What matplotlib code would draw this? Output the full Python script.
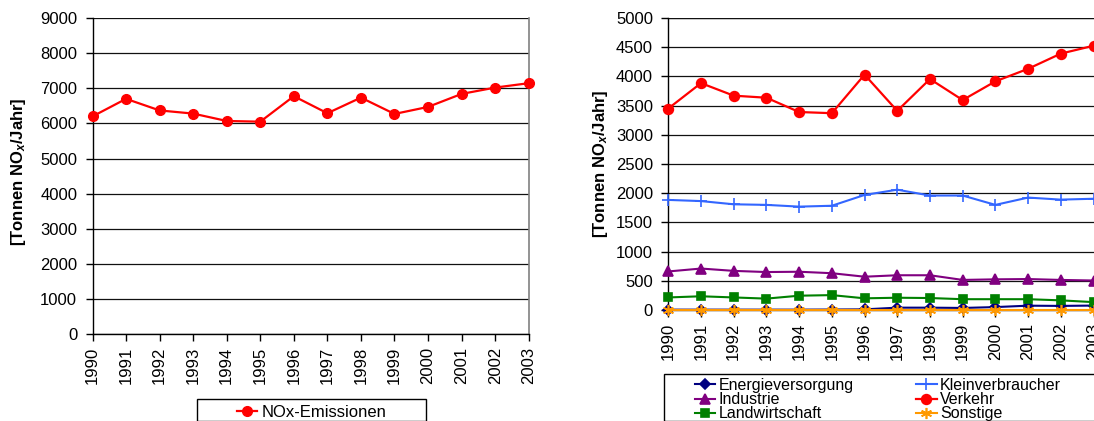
import matplotlib
matplotlib.use("Agg")
import matplotlib.pyplot as plt
from matplotlib.patches import Rectangle

plt.rcParams["font.family"] = ["Liberation Sans", "DejaVu Sans"]
plt.rcParams["mathtext.fontset"] = "custom"
plt.rcParams["mathtext.rm"] = "Liberation Sans:bold"
plt.rcParams["mathtext.it"] = "Liberation Sans:bold:italic"

years = [str(y) for y in range(1990, 2004)]

# total NOx emissions [t/a]
nox_total = [6200, 6700, 6370, 6280, 6070, 6050, 6775, 6290, 6735, 6270, 6470, 6840, 7020, 7145]

# emissions by source group [t/a]
energie = [6, 6, 6, 6, 6, 8, 11, 40, 40, 35, 50, 74, 70, 76]
klein = [1885, 1865, 1810, 1800, 1770, 1785, 1970, 2060, 1960, 1960, 1800, 1925, 1890, 1905]
industrie = [660, 710, 670, 650, 655, 630, 570, 595, 595, 515, 525, 530, 515, 505]
verkehr = [3450, 3885, 3670, 3635, 3390, 3370, 4030, 3410, 3955, 3595, 3915, 4130, 4390, 4525]
landw = [215, 235, 215, 195, 245, 255, 200, 210, 205, 185, 185, 185, 165, 135]
sonstige = [3, 3, 3, 3, 3, 3, 3, 3, 3, 3, 3, 3, 3, 3]

W, H = 1094, 421
fig = plt.figure(figsize=(W / 100, H / 100), dpi=100)
fig.patch.set_facecolor("white")


def px_axes(x0, y0, x1, y1):
    return fig.add_axes([x0 / W, 1 - y1 / H, (x1 - x0) / W, (y1 - y0) / H])


def style_axes(ax, ymax, step):
    ax.set_xlim(0, len(years) - 1)
    ax.set_ylim(0, ymax)
    ax.set_yticks(range(0, ymax + 1, step))
    ax.set_xticks(range(len(years)))
    ax.set_xticklabels(years, rotation=90)
    ax.tick_params(axis="both", labelsize=12, length=5, width=1, color="black",
                   direction="out")
    ax.tick_params(axis="y", pad=6)
    ax.tick_params(axis="x", pad=4)
    ax.grid(axis="y", color="#111111", linewidth=0.9)
    ax.set_axisbelow(True)
    for s in ["left", "bottom"]:
        ax.spines[s].set_color("black")
        ax.spines[s].set_linewidth(1.0)
    ax.spines["top"].set_visible(False)


ylabel = r"[Tonnen NO$_x$/Jahr]"

# left: total emissions
ax1 = px_axes(92.5, 18, 528.7, 334.3)
style_axes(ax1, 9000, 1000)
ax1.spines["right"].set_color("#808080")
ax1.spines["right"].set_linewidth(1.2)
x = range(len(years))
ax1.plot(x, nox_total, color="#FF0000", linewidth=1.6, marker="o",
         markersize=7, clip_on=False, zorder=3, label="NOx-Emissionen")
fig.text(19 / W, 1 - 172 / H, ylabel, rotation=90, fontsize=12,
         fontweight="bold", ha="center", va="center")

fig.patches.append(Rectangle((196.5 / W, 0), (426 - 196.5) / W, 1 - 398.5 / H,
                             transform=fig.transFigure, facecolor="none",
                             edgecolor="black", linewidth=1.0))
fig.legend(handles=ax1.get_lines(), loc="center left",
           bbox_to_anchor=(237 / W, 1 - 412.5 / H), frameon=False,
           fontsize=12, handlelength=1.2, handletextpad=0.3,
           borderpad=0, borderaxespad=0)

# right: emissions by source group
ax2 = px_axes(668.3, 18, 1093.5, 310)
style_axes(ax2, 5000, 500)
ax2.spines["right"].set_visible(False)
ax2.axhline(5000, color="#111111", linewidth=0.9, zorder=0)

series = [
    ("Energieversorgung", energie, "#000080", "D", 5, 1.5),
    ("Kleinverbraucher", klein, "#3366FF", "+", 8, 1.5),
    ("Industrie", industrie, "#800080", "^", 6.5, 1.5),
    ("Verkehr", verkehr, "#FF0000", "o", 7, 1.6),
    ("Landwirtschaft", landw, "#008000", "s", 6, 1.5),
    ("Sonstige", sonstige, "#FF9900", (6, 2, 0), 8, 1.5),
]
handles = {}
for name, vals, col, mk, ms, lw in series:
    (ln,) = ax2.plot(x, vals, color=col, linewidth=lw, marker=mk, markersize=ms,
                     markeredgewidth=1.2, clip_on=False, zorder=3, label=name)
    handles[name] = ln

order = ["Energieversorgung", "Industrie", "Landwirtschaft",
         "Kleinverbraucher", "Verkehr", "Sonstige"]
fig.patches.append(Rectangle((664 / W, 0), (1100 - 664) / W, 1 - 374 / H,
                             transform=fig.transFigure, facecolor="none",
                             edgecolor="black", linewidth=1.0))
fig.legend(handles=[handles[n] for n in order], ncol=2, loc="upper left",
           bbox_to_anchor=(694.5 / W, 1 - 378 / H), frameon=False,
           fontsize=11.5, handlelength=1.3, handletextpad=0.2,
           columnspacing=3.9, labelspacing=-0.05,
           borderpad=0, borderaxespad=0)
fig.text(601 / W, 1 - 164 / H, ylabel, rotation=90, fontsize=12,
         fontweight="bold", ha="center", va="center")

fig.savefig("out.png", dpi=100, facecolor="white")
